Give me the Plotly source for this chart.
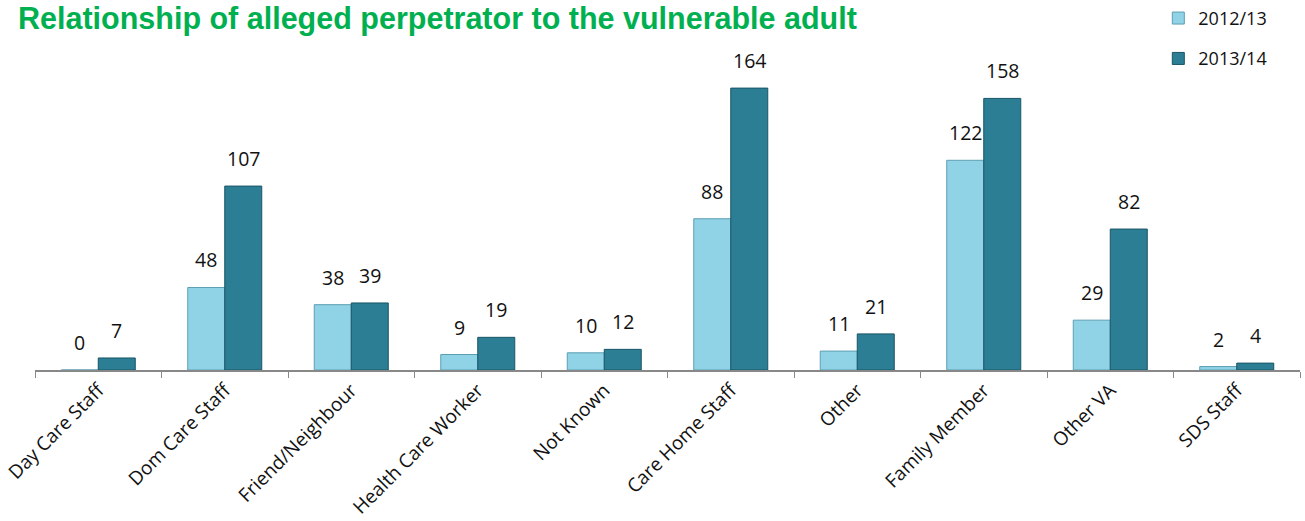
import plotly.graph_objects as go

categories = ["Day Care Staff", "Dom Care Staff", "Friend/Neighbour", "Health Care Worker",
              "Not Known", "Care Home Staff", "Other", "Family Member", "Other VA", "SDS Staff"]
series_names = ["2012/13", "2013/14"]
values_2012 = [0, 48, 38, 9, 10, 88, 11, 122, 29, 2]
values_2013 = [7, 107, 39, 19, 12, 164, 21, 158, 82, 4]

fig = go.Figure()
fig.add_trace(go.Bar(
    name=series_names[0], x=categories, y=values_2012, legendgroup="a",
    marker=dict(color="#90d2e6", line=dict(color="#5d9fb2", width=1)),
))
fig.add_trace(go.Bar(
    name=series_names[1], x=categories, y=values_2013, legendgroup="b",
    marker=dict(color="#2b7e93", line=dict(color="#1a5566", width=1)),
))

annotations = []
for vals, shift in ((values_2012, -18.5), (values_2013, 18.5)):
    for c, v in zip(categories, vals):
        annotations.append(dict(x=c, y=v, xref="x", yref="y", text=str(v), showarrow=False,
                                xshift=shift, yshift=12, yanchor="bottom",
                                font=dict(size=19.5, color="#111111")))

fig.update_layout(
    width=1305, height=521,
    paper_bgcolor="white", plot_bgcolor="white",
    font=dict(family="Open Sans, Liberation Sans, sans-serif", color="#111111"),
    title=dict(text="<b>Relationship of alleged perpetrator to the vulnerable adult</b>",
               x=18 / 1305, xanchor="left", y=0.986, yanchor="top",
               font=dict(family="Liberation Sans Narrow, Liberation Sans, sans-serif", size=30.5, color="#00b050")),
    barmode="group", bargap=0.415, bargroupgap=0,
    margin=dict(l=35, r=5, t=52, b=151, autoexpand=False),
    annotations=annotations,
    showlegend=True,
    legend=dict(x=0.888, y=1.164, xanchor="left", yanchor="top",
                font=dict(size=18, color="#111111"), tracegroupgap=14,
                traceorder="grouped", itemwidth=30,
                bgcolor="rgba(0,0,0,0)"),
    xaxis=dict(showline=True, linecolor="#888888", linewidth=1.5, automargin=False,
               ticks="outside", tickcolor="#888888", ticklen=6, tickson="boundaries",
               tickangle=-45, tickfont=dict(size=19, color="#111111"),
               showgrid=False),
    yaxis=dict(visible=False, range=[0, 185], showgrid=False, zeroline=False, automargin=False),
)

fig.write_html("out.html", config={"displayModeBar": False},
               post_script="document.body.style.margin='0';")
